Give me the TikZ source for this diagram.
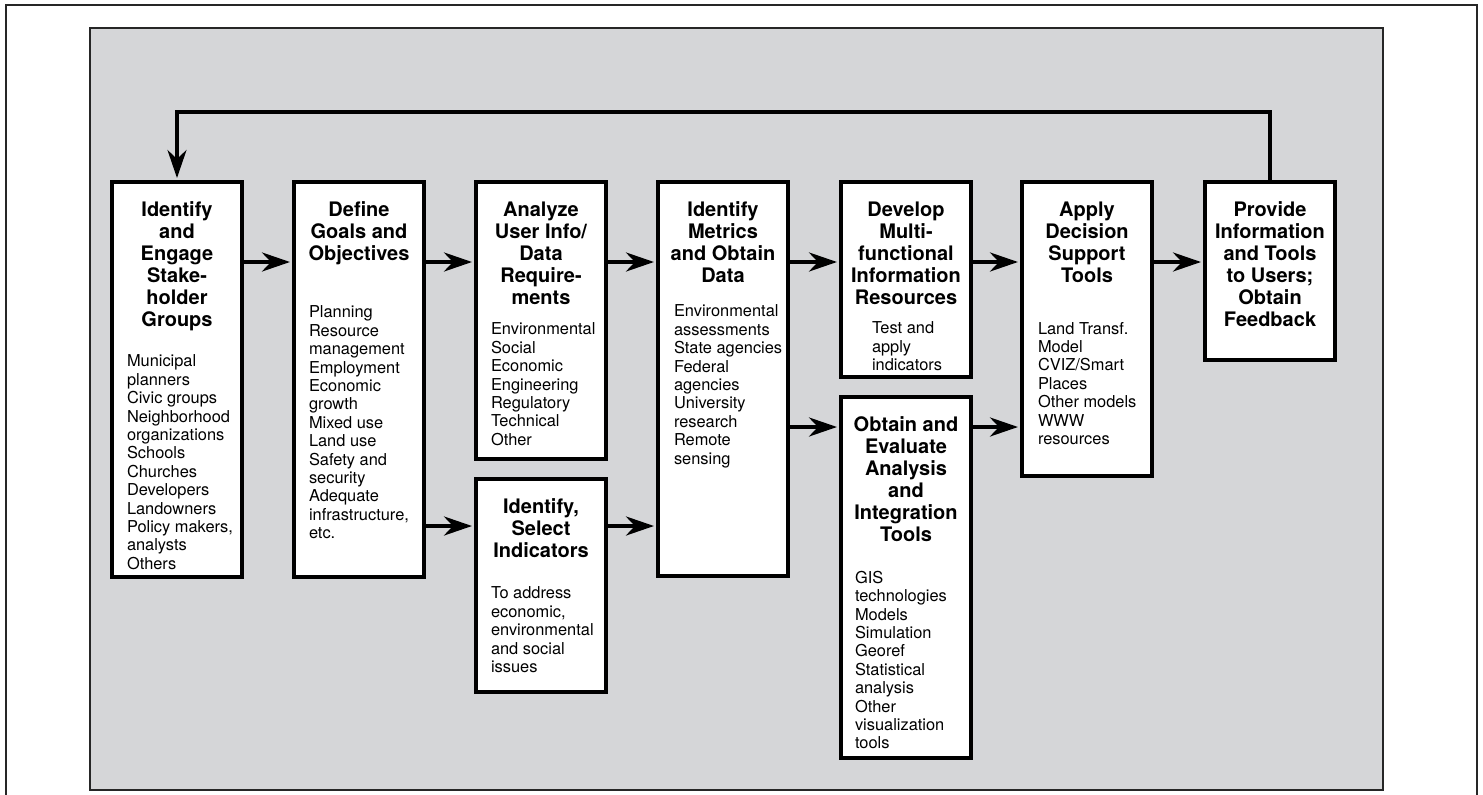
\documentclass[tikz,border=0pt]{standalone}
\usepackage{fontspec}
\setmainfont{TeX Gyre Heros}
\usetikzlibrary{arrows.meta,positioning,calc}
\definecolor{panelgray}{RGB}{213,214,216}

\begin{document}
\begin{tikzpicture}[x=1pt,y=-1pt,->,>={Stealth[length=28pt,width=19pt,inset=9pt]},shorten >=2pt,line width=4pt,
  stage/.style={draw,fill=white,anchor=north west,minimum width=130pt,inner sep=0pt},
  head/.style={anchor=north,inner sep=0pt,align=center,font=\fontsize{20}{22}\selectfont\bfseries},
  items/.style={anchor=north west,inner sep=0pt,align=left,font=\fontsize{16.4}{18.4}\selectfont}]
  \useasboundingbox (0,0) rectangle (1483,795);
  % frames
  \draw[-,shorten >=0pt,line width=1.5pt,black!85] (6,5) rectangle (1477,820);
  \draw[-,shorten >=0pt,line width=1.8pt,black!85,fill=panelgray] (90,28) rectangle (1383,790);

  % boxes
  \node[stage,minimum height=395pt] (idf)   at (110,180) {};
  \node[stage,minimum height=395pt] (goals) at (292,180) {};
  \node[stage,minimum height=277pt] (anlz)  at (474,180) {};
  \node[stage,minimum height=213pt] (sel)   at (474,477) {};
  \node[stage,minimum height=394pt] (metr)  at (656,180) {};
  \node[stage,minimum height=195pt] (dev)   at (839,180) {};
  \node[stage,minimum height=361pt] (obt)   at (839,395) {};
  \node[stage,minimum height=294pt] (appl)  at (1020,180) {};
  \node[stage,minimum height=178pt] (prov)  at (1203,180) {};

  % titles
  \node[head] (idfh)   at ([yshift=-20pt]idf.north)   {Identify\\and\\Engage\\Stake-\\holder\\Groups};
  \node[head] (goalsh) at ([yshift=-20pt]goals.north) {Define\\Goals and\\Objectives};
  \node[head] (anlzh)  at ([yshift=-20pt]anlz.north)  {Analyze\\User Info/\\Data\\Require-\\ments};
  \node[head] (selh)   at ([yshift=-20pt]sel.north)   {Identify,\\Select\\Indicators};
  \node[head] (metrh)  at ([yshift=-20pt]metr.north)  {Identify\\Metrics\\and Obtain\\Data};
  \node[head] (devh)   at ([yshift=-20pt]dev.north)   {Develop\\Multi-\\functional\\Information\\Resources};
  \node[head] (obth)   at ([yshift=-20pt]obt.north)   {Obtain and\\Evaluate\\Analysis\\and\\Integration\\Tools};
  \node[head] (applh)  at ([yshift=-20pt]appl.north)  {Apply\\Decision\\Support\\Tools};
  \node[head] (provh)  at ([yshift=-20pt]prov.north)  {Provide\\Information\\and Tools\\to Users;\\Obtain\\Feedback};

  % lists
  \node[items] (idfl)   at ([xshift=15pt,yshift=-173pt]idf.north west)
    {Municipal\\planners\\Civic groups\\Neighborhood\\organizations\\Schools\\Churches\\Developers\\Landowners\\Policy makers,\\analysts\\Others};
  \node[items] (goalsl) at ([xshift=15pt,yshift=-124pt]goals.north west)
    {Planning\\Resource\\management\\Employment\\Economic\\growth\\Mixed use\\Land use\\Safety and\\security\\Adequate\\infrastructure,\\etc.};
  \node[items] (anlzl)  at ([xshift=15pt,yshift=-141pt]anlz.north west)
    {Environmental\\Social\\Economic\\Engineering\\Regulatory\\Technical\\Other};
  \node[items] (sell)   at ([xshift=15pt,yshift=-108pt]sel.north west)
    {To address\\economic,\\environmental\\and social\\issues};
  \node[items] (metrl)  at ([xshift=16pt,yshift=-123pt]metr.north west)
    {Environmental\\assessments\\State agencies\\Federal\\agencies\\University\\research\\Remote\\sensing};
  \node[items] (devl)   at ([xshift=31pt,yshift=-140pt]dev.north west)
    {Test and\\apply\\indicators};
  \node[items] (obtl)   at ([xshift=14pt,yshift=-174pt]obt.north west)
    {GIS\\technologies\\Models\\Simulation\\Georef\\Statistical\\analysis\\Other\\visualization\\tools};
  \node[items] (appll)  at ([xshift=16pt,yshift=-140pt]appl.north west)
    {Land Transf.\\Model\\CVIZ/Smart\\Places\\Other models\\WWW\\resources};

  % flow
  \draw ([yshift=-82pt]idf.north east)   -- ([yshift=-82pt]goals.north west);
  \draw ([yshift=-82pt]goals.north east) -- ([yshift=-82pt]anlz.north west);
  \draw ([yshift=-346pt]goals.north east) -- ([yshift=-49pt]sel.north west);
  \draw ([yshift=-82pt]anlz.north east)  -- ([yshift=-82pt]metr.north west);
  \draw ([yshift=-49pt]sel.north east)   -- ([yshift=-346pt]metr.north west);
  \draw ([yshift=-82pt]metr.north east)  -- ([yshift=-82pt]dev.north west);
  \draw ([yshift=-247pt]metr.north east) -- ([yshift=-32pt]obt.north west);
  \draw ([yshift=-82pt]dev.north east)   -- ([yshift=-82pt]appl.north west);
  \draw ([yshift=-32pt]obt.north east)   -- ([yshift=-247pt]appl.north west);
  \draw ([yshift=-82pt]appl.north east)  -- ([yshift=-82pt]prov.north west);
  % feedback
  \draw[line width=3.5pt] (prov.north) -- ++(0,-68) -| (idf.north);
\end{tikzpicture}
\end{document}
